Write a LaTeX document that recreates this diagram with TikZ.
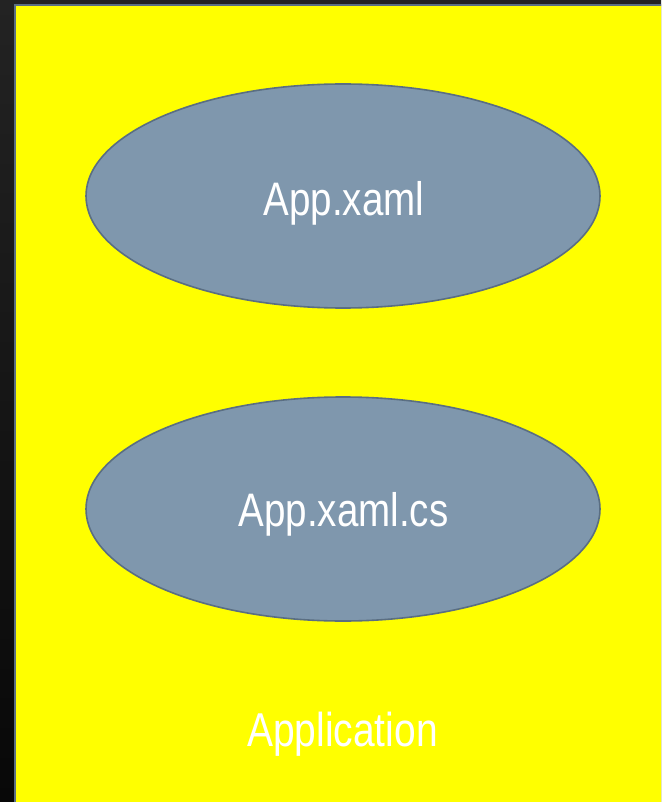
\documentclass[tikz,border=0pt]{standalone}
\usepackage{fontspec}
\setmainfont{Liberation Sans}[FakeStretch=0.82]
\usetikzlibrary{shapes.geometric}
\definecolor{bgtop}{HTML}{232323}
\definecolor{bgbot}{HTML}{080808}
\definecolor{appyellow}{HTML}{FFFF00}
\definecolor{frameblue}{HTML}{5B6F83}
\definecolor{ellfill}{HTML}{7F97AD}
\definecolor{ellline}{HTML}{5A6E82}
\tikzset{
  filebubble/.style={ellipse, draw=ellline, line width=1.6pt, fill=ellfill,
    minimum width=514pt, minimum height=224pt, inner sep=0pt},
  bubbletext/.style={anchor=base, text=white, font=\fontsize{47}{50}\selectfont, inner sep=0pt},
}
\begin{document}
\begin{tikzpicture}[x=1pt,y=-1pt]
\useasboundingbox (0,0) rectangle (661,802);
\shade[top color=bgtop, bottom color=bgbot] (0,0) rectangle (661,802);
\clip (0,0) rectangle (661,802);
\draw[fill=appyellow, draw=frameblue, line width=2pt] (15,5) rectangle (680,820);
\node[filebubble] (xaml) at (343,196) {};
\node[filebubble] (xamlcs) at (343,509) {};
\node[bubbletext] (xamltext) at (344,216) {App.xaml};
\node[bubbletext] (xamlcstext) at (343.5,526) {App.xaml.cs};
\node[bubbletext, font=\fontsize{47.5}{50}\selectfont] (apptext) at (342.5,746) {Application};
\end{tikzpicture}
\end{document}
